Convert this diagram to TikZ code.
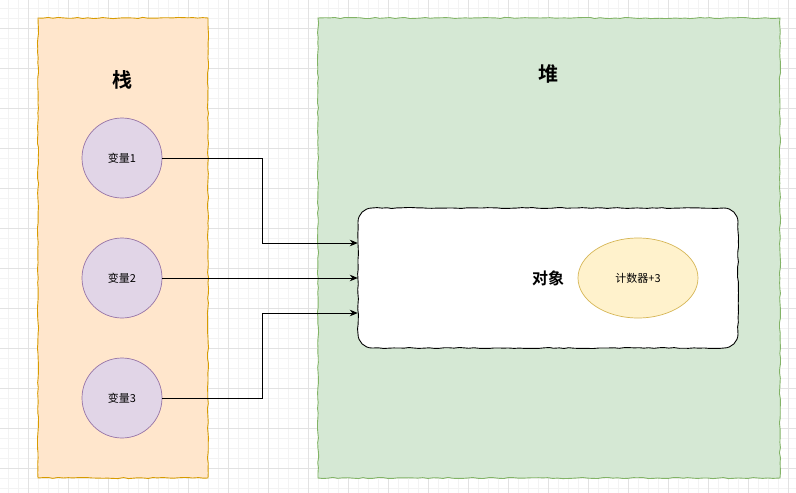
\documentclass[tikz,border=0pt]{standalone}
\usepackage{fontspec}
\setmainfont{Noto Sans CJK SC}
\newfontfamily\cjkbold{Noto Sans CJK SC Bold}
\usetikzlibrary{arrows.meta,decorations.pathmorphing,shapes.geometric}
\definecolor{stackfill}{HTML}{FFE6CC}
\definecolor{stackline}{HTML}{D79B00}
\definecolor{heapfill}{HTML}{D5E8D4}
\definecolor{heapline}{HTML}{82B366}
\definecolor{varfill}{HTML}{E1D5E7}
\definecolor{varline}{HTML}{9673A6}
\definecolor{cntfill}{HTML}{FFF2CC}
\definecolor{cntline}{HTML}{D6B656}
\definecolor{gridminor}{HTML}{F3F3F3}
\definecolor{gridmajor}{HTML}{E2E2E2}
\tikzset{
  sketch/.style={decorate,decoration={random steps,segment length=5pt,amplitude=0.6pt}},
  region/.style={draw, line width=0.9pt, sketch},
  objbox/.style={draw=black, fill=white, line width=0.9pt, decoration={random steps,segment length=5pt,amplitude=0.5pt}},
  varnode/.style={circle, draw=varline, fill=varfill, minimum size=80pt, inner sep=0pt, line width=0.7pt, font=\fontsize{11}{13}\selectfont},
  cntnode/.style={ellipse, draw=cntline, fill=cntfill, minimum width=120pt, minimum height=80pt, inner sep=0pt, line width=0.7pt, font=\fontsize{11}{13}\selectfont},
  title/.style={font=\cjkbold\fontsize{20}{24}\selectfont},
  objtitle/.style={font=\cjkbold\fontsize{16}{20}\selectfont},
  conn/.style={line width=0.9pt, -{Stealth[length=8pt,width=6.5pt]}},
}
\begin{document}
\begin{tikzpicture}[x=1pt,y=-1pt]
\useasboundingbox (0,0) rectangle (796,493);
\fill[white] (0,0) rectangle (796,493);
% grid
\foreach \i in {8,18,...,796} \draw[gridminor, line width=0.6pt] (\i,0) -- (\i,493);
\foreach \j in {8,18,...,493} \draw[gridminor, line width=0.6pt] (0,\j) -- (796,\j);
\foreach \i in {28,68,...,796} \draw[gridmajor, line width=0.6pt] (\i,0) -- (\i,493);
\foreach \j in {28,68,...,493} \draw[gridmajor, line width=0.6pt] (0,\j) -- (796,\j);
% regions
\path[region, draw=stackline, fill=stackfill] (38,18) rectangle (208,478);
\path[region, draw=heapline, fill=heapfill] (318,18) rectangle (780,478);
\node[title] (stacklbl) at (122,80) {栈};
\node[title] (heaplbl) at (548,74) {堆};
% object
\path[objbox] (372,208) decorate{-- (724,208)}
  .. controls (731.7,208) and (738,214.3) .. (738,222) decorate{-- (738,334)}
  .. controls (738,341.7) and (731.7,348) .. (724,348) decorate{-- (372,348)}
  .. controls (364.3,348) and (358,341.7) .. (358,334) decorate{-- (358,222)}
  .. controls (358,214.3) and (364.3,208) .. (372,208) -- cycle;
\node[inner sep=0pt, minimum width=380pt, minimum height=140pt] (obj) at (548,278) {};
\node[objtitle] (objlbl) at (548,278) {对象};
\node[cntnode] (cnt) at (638,278) {计数器+3};
% variables
\node[varnode] (v1) at (122,158) {变量1};
\node[varnode] (v2) at (122,278) {变量2};
\node[varnode] (v3) at (122,398) {变量3};
% connector end points
\coordinate (in1) at (obj.west |- 0,243);
\coordinate (in2) at (obj.west |- 0,278);
\coordinate (in3) at (obj.west |- 0,313);
\coordinate (b1) at (262,158);
\coordinate (b3) at (262,398);
\draw[conn] (v1.east) -- (b1) |- (in1);
\draw[conn] (v2.east) -- (in2);
\draw[conn] (v3.east) -- (b3) |- (in3);
\end{tikzpicture}
\end{document}
